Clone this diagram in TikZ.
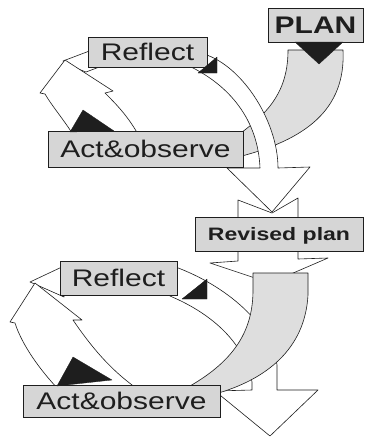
\documentclass[tikz,border=0pt]{standalone}
\usepackage{fontspec}
\setmainfont{Liberation Sans}
\definecolor{boxgray}{HTML}{D6D6D6}
\definecolor{bandgray}{HTML}{DEDEDE}
\definecolor{ink}{HTML}{1E1E1E}
\begin{document}
\begin{tikzpicture}[x=1pt,y=-1pt,
  lbl/.style={draw=ink, line width=0.8pt, fill=boxgray, inner sep=0pt, text=ink},
  big/.style={font=\fontsize{24pt}{24pt}\selectfont, text height=17.2pt, text depth=0pt},
  bigb/.style={font=\fontsize{24pt}{24pt}\selectfont\bfseries, text height=17.2pt, text depth=0pt},
  midb/.style={font=\fontsize{18pt}{18pt}\selectfont\bfseries, text height=12.9pt, text depth=0pt},
  band/.style={fill=bandgray, draw=ink, line width=0.6pt, line join=round},
  warrow/.style={fill=white, draw=ink, line width=0.6pt, line join=round},
  blacktri/.style={fill=ink, draw=ink, line width=0.3pt, line join=round}]
\useasboundingbox (0,0) rectangle (370,437);
\fill[white] (0,0) rectangle (370,437);

% ---------- top cycle ----------
% left arrow (Act&observe -> Reflect)
\draw[warrow] (63,61) -- (92,50) -- (102,66) -- (86,72) -- (73,67) -- cycle;
\draw[warrow] (74,136) .. controls (64,120) and (52,106) .. (45,94) -- (40,93) -- (65,60)
  -- (113,91) -- (105,93) .. controls (116,104) and (128,116) .. (139,136) -- cycle;
% gray band from PLAN
\draw[band] (288,50) -- (343,50) .. controls (346,110) and (305,140) .. (238,157)
  -- (238,135) .. controls (270,112) and (288,90) .. (288,50) -- cycle;
% white arc from Reflect to Revised plan
\draw[warrow] (200,53) .. controls (240,62) and (278,120) .. (278,168) -- (310,167)
  -- (272,212) -- (227,168) -- (260,168) .. controls (258,120) and (230,85) .. (187,65) -- cycle;
% notched arrow through Revised plan
\draw[warrow] (238,200) -- (272,213) -- (298,198) -- (298,259) -- (328,258)
  -- (270,283) -- (210,263) -- (238,261) -- cycle;

\node[lbl, big, minimum width=119pt, minimum height=30pt] (reflect1) at (147.5,52) {\scalebox{1.25}[1]{Reflect}};
\node[lbl, big, minimum width=195pt, minimum height=36pt] (act1) at (145.5,149) {\scalebox{1.25}[1]{Act\&observe}};
\node[lbl, bigb, minimum width=95pt, minimum height=34pt] (plan) at (315.5,25) {\scalebox{1.25}[1]{PLAN}};

\fill[blacktri] (295,42) -- (343,42) -- (319,64) -- cycle;
\fill[blacktri] (198,73) -- (217,57) -- (217,73) -- cycle;
\fill[blacktri] (70,132) -- (83,110) -- (114,131) -- cycle;

% ---------- bottom cycle ----------
% white arc from Reflect (goes behind the gray band)
\draw[warrow] (170,265) .. controls (220,282) and (270,320) .. (277,365) -- (277,390)
  -- (318,390) -- (270,436) -- (215,391) -- (252,390) -- (252,382)
  .. controls (245,345) and (215,315) .. (170,296) -- cycle;
% gray band from Revised plan
\draw[band] (253,273) -- (308,273) -- (308,295) .. controls (305,350) and (265,380) .. (215,394)
  -- (190,386) .. controls (235,360) and (253,330) .. (253,290) -- cycle;
% left arrow (Act&observe -> Reflect)
\draw[warrow] (30,282) -- (64,266) -- (64,297) -- (37,285) -- cycle;
\draw[warrow] (59,390) .. controls (40,370) and (22,345) .. (15,323) -- (10,322) -- (35,283)
  -- (82,320) -- (73,320) .. controls (90,345) and (110,370) .. (139,390) -- cycle;

\node[lbl, midb, minimum width=168pt, minimum height=34pt] (revised) at (279,234) {\scalebox{1.28}[1]{Revised plan}};
\node[lbl, big, minimum width=117pt, minimum height=34pt] (reflect2) at (118.5,278) {\scalebox{1.25}[1]{Reflect}};
\node[lbl, big, minimum width=197pt, minimum height=32pt] (act2) at (121.5,401) {\scalebox{1.25}[1]{Act\&observe}};

\fill[blacktri] (182,299) -- (207,279) -- (207,299) -- cycle;
\fill[blacktri] (57,386) -- (73,357) -- (112,380) -- cycle;
\end{tikzpicture}
\end{document}
